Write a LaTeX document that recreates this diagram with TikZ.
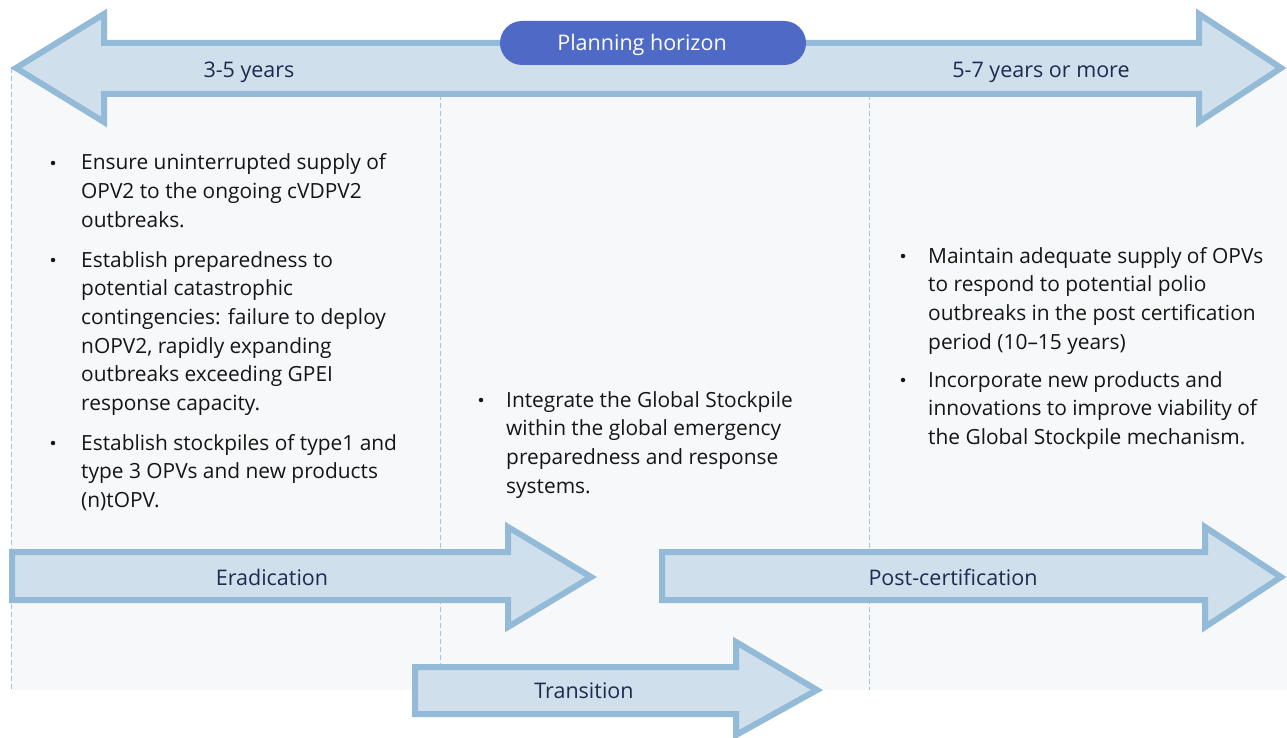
\documentclass[tikz,border=0pt]{standalone}
\usepackage{fontspec}
\setmainfont{Open Sans}
\definecolor{panel}{HTML}{F7F8FA}
\definecolor{arrowfill}{HTML}{D0DFEC}
\definecolor{arrowline}{HTML}{93BAD6}
\definecolor{dashline}{HTML}{A3C3DE}
\definecolor{pill}{HTML}{4F69C6}
\definecolor{navy}{HTML}{1F2A4F}
\definecolor{bodytext}{HTML}{151515}
\tikzset{
  bigarrow/.style={fill=arrowfill, draw=arrowline, line width=6pt, line join=miter, miter limit=3},
  divider/.style={draw=dashline, line width=1pt, dash pattern=on 5pt off 3pt},
  arrowlabel/.style={text=navy, font=\fontsize{21.5}{24}\selectfont, inner sep=0pt},
  bodytxt/.style={text=bodytext, font=\fontsize{20.9}{28.7}\selectfont, align=left, inner sep=0pt, anchor=base west},
  bulletdot/.style={circle, fill=bodytext, inner sep=0pt, minimum size=4.5pt},
}
\begin{document}
\begin{tikzpicture}[x=1pt,y=-1pt]
\useasboundingbox (0,0) rectangle (1287,738);
% background panel
\fill[panel] (11,68) rectangle (1287,690);
% dividers
\draw[divider] (11,68) -- (11,690);
\draw[divider] (440,95) -- (440,690);
\draw[divider] (869,95) -- (869,690);
% top double arrow
\draw[bigarrow] (16,68) -- (104,14) -- (104,43) -- (1199,43) -- (1199,14) -- (1281,68) -- (1199,122) -- (1199,94) -- (104,94) -- (104,122) -- cycle;
\node[fill=pill, rounded corners=22pt, minimum width=306pt, minimum height=44pt, inner sep=0pt] (ph) at (653,43) {};
\node[arrowlabel, text=white] (phtext) at (642,45) {Planning horizon};
\node[arrowlabel] (y35) at (249,72) {3-5 years};
\node[arrowlabel] (y57) at (1041,72) {5-7 years or more};
% eradication arrow
\draw[bigarrow] (12,552) -- (508,552) -- (508,527) -- (591,577) -- (508,627) -- (508,600) -- (12,600) -- cycle;
\node[arrowlabel] (erad) at (272,577) {Eradication};
% post-certification arrow
\draw[bigarrow] (662,552) -- (1205,552) -- (1205,527) -- (1281,577) -- (1205,627) -- (1205,600) -- (662,600) -- cycle;
\node[arrowlabel] (post) at (953,577) {Post-certification};
% transition arrow
\draw[bigarrow] (415,667) -- (736,667) -- (736,642) -- (817,690) -- (736,735) -- (736,714) -- (415,714) -- cycle;
\node[arrowlabel] (trans) at (584,691) {Transition};
% left column bullets
\node[bulletdot] (b1) at (53,163) {};
\node[bodytxt] (t1) at (81,227.4) {Ensure uninterrupted supply of\\OPV2 to the ongoing cVDPV2\\outbreaks.};
\node[bulletdot] (b2) at (53,260) {};
\node[bodytxt] (t2) at (81,410.5) {Establish preparedness to\\potential catastrophic\\contingencies: failure to deploy\\nOPV2, rapidly expanding\\outbreaks exceeding GPEI\\response capacity.};
\node[bulletdot] (b3) at (53,443) {};
\node[bodytxt] (t3) at (81,507.4) {Establish stockpiles of type1 and\\type 3 OPVs and new products\\(n)tOPV.};
% middle column
\node[bulletdot] (b4) at (481,400) {};
\node[bodytxt] (t4) at (506,493.1) {Integrate the Global Stockpile\\within the global emergency\\preparedness and response\\systems.};
% right column
\node[bulletdot] (b5) at (903,256) {};
\node[bodytxt] (t5) at (928,349.1) {Maintain adequate supply of OPVs\\to respond to potential polio\\outbreaks in the post certification\\period (10–15 years)};
\node[bulletdot] (b6) at (903,380) {};
\node[bodytxt] (t6) at (928,444.4) {Incorporate new products and\\innovations to improve viability of\\the Global Stockpile mechanism.};
\end{tikzpicture}
\end{document}
